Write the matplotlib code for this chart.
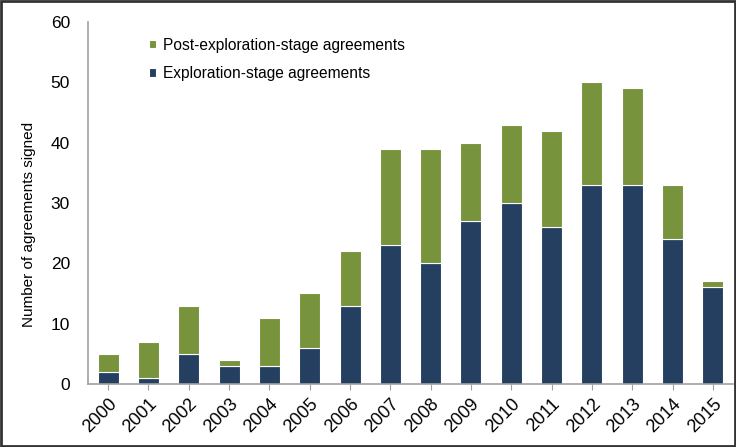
import numpy as np
import matplotlib.pyplot as plt
import matplotlib.patches as patches

plt.rcParams['font.family'] = ['Liberation Sans', 'DejaVu Sans']

years = ['2000', '2001', '2002', '2003', '2004', '2005', '2006', '2007',
         '2008', '2009', '2010', '2011', '2012', '2013', '2014', '2015']
exploration = [2, 1, 5, 3, 3, 6, 13, 23, 20, 27, 30, 26, 33, 33, 24, 16]
post_exploration = [3, 6, 8, 1, 8, 9, 9, 16, 19, 13, 13, 16, 17, 16, 9, 1]

navy = '#243f60'
green = '#77933c'
grey = '#a0a0a0'

fig = plt.figure(figsize=(7.36, 4.47), dpi=100)
ax = fig.add_axes([88 / 736, 1 - 384 / 447, (733 - 88) / 736, (384 - 22) / 447])

x = np.arange(len(years))
b1 = ax.bar(x, exploration, width=0.52, color=navy, edgecolor='white', linewidth=0.8,
            label='Exploration-stage agreements')
b2 = ax.bar(x, post_exploration, width=0.52, bottom=exploration, color=green,
            edgecolor='white', linewidth=0.8, label='Post-exploration-stage agreements')

ax.set_xlim(-0.5, len(years) - 0.5)
ax.set_ylim(0, 60)
ax.set_yticks(range(0, 61, 10))
ax.set_xticks(x)
ax.set_xticklabels(years, rotation=45, ha='right', rotation_mode='anchor', fontsize=13)
ax.tick_params(axis='y', length=0, labelsize=12.5, pad=13)
ax.tick_params(axis='x', length=4, color=grey, pad=4)
ax.set_ylabel('Number of agreements signed', fontsize=11)
ax.yaxis.set_label_coords(-0.08, 0.44)

for s in ['top', 'right']:
    ax.spines[s].set_visible(False)
for s in ['left', 'bottom']:
    ax.spines[s].set_color(grey)
    ax.spines[s].set_linewidth(1.2)

ax.legend([b2, b1], ['Post-exploration-stage agreements', 'Exploration-stage agreements'],
          loc='upper left', bbox_to_anchor=(0.073, 0.995), frameon=False, fontsize=11.2,
          handlelength=0.45, handleheight=0.45, handletextpad=0.45, labelspacing=0.85)

fig.patches.append(patches.Rectangle((0.002, 0.003), 0.996, 0.994, transform=fig.transFigure,
                                     fill=False, edgecolor='#333333', linewidth=2))

plt.savefig('out.png', dpi=100)
